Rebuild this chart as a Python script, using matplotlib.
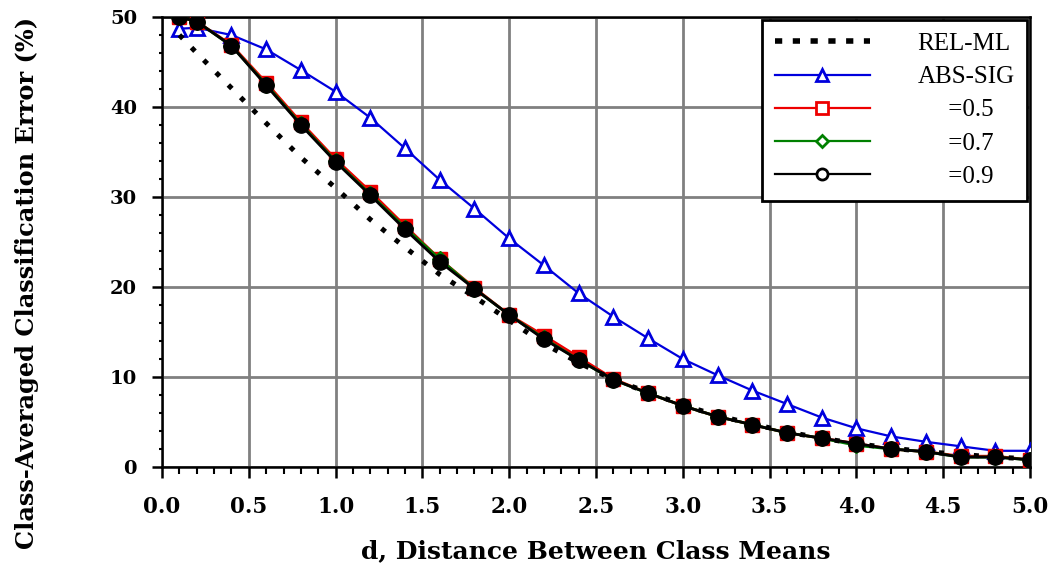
import matplotlib
matplotlib.use("Agg")
import matplotlib.pyplot as plt
from matplotlib.lines import Line2D
from matplotlib.ticker import MultipleLocator

d = [0.1, 0.2, 0.4, 0.6, 0.8, 1.0, 1.2, 1.4, 1.6, 1.8, 2.0, 2.2, 2.4, 2.6,
     2.8, 3.0, 3.2, 3.4, 3.6, 3.8, 4.0, 4.2, 4.4, 4.6, 4.8, 5.0]

rel_ml = [48.0, 46.0, 42.1, 38.2, 34.4, 31.0, 27.5, 24.4, 21.4, 18.9, 16.3,
          13.7, 11.6, 9.7, 8.3, 6.9, 5.7, 4.8, 3.9, 3.2, 2.6, 2.1, 1.7, 1.4,
          1.1, 0.9]
abs_sig = [48.7, 48.8, 48.0, 46.4, 44.1, 41.7, 38.8, 35.4, 31.9, 28.7, 25.4,
           22.4, 19.3, 16.7, 14.3, 12.0, 10.2, 8.5, 7.0, 5.5, 4.3, 3.4, 2.8,
           2.3, 1.8, 1.8]
a05 = [50.0, 49.5, 46.9, 42.7, 38.3, 34.2, 30.6, 26.8, 23.1, 19.9, 16.9,
       14.6, 12.2, 9.8, 8.2, 6.8, 5.6, 4.7, 3.8, 3.2, 2.6, 2.0, 1.7, 1.2,
       1.2, 0.8]
a07 = [50.0, 49.5, 46.8, 42.5, 38.1, 34.0, 30.3, 26.6, 23.1, 19.8, 16.9,
       14.3, 11.9, 9.7, 8.2, 6.8, 5.6, 4.7, 3.8, 3.2, 2.4, 2.0, 1.7, 1.1,
       1.1, 0.8]
a09 = [50.0, 49.5, 46.8, 42.4, 38.0, 33.9, 30.2, 26.4, 22.8, 19.8, 16.9,
       14.2, 11.9, 9.7, 8.2, 6.8, 5.6, 4.7, 3.8, 3.2, 2.6, 2.0, 1.7, 1.1,
       1.1, 0.8]

labels = ["REL-ML", "ABS-SIG", "     =0.5", "     =0.7", "     =0.9"]
x_ticks = [0.0, 0.5, 1.0, 1.5, 2.0, 2.5, 3.0, 3.5, 4.0, 4.5, 5.0]
y_ticks = [0, 10, 20, 30, 40, 50]

plt.rcParams['font.family'] = ['Liberation Serif', 'DejaVu Serif']
AX_FONT = ['DejaVu Serif']

fig = plt.figure(figsize=(10.5, 5.67), dpi=100)
ax = fig.add_axes([162/1050, 100/567, 868/1050, 450/567])

ax.plot(d, abs_sig, color='#0000dd', lw=1.6, marker='^', ms=10,
        mfc='white', mec='#0000dd', mew=2, zorder=3)
ax.plot(d, a05, color='#ee0000', lw=2.0, marker='s', ms=10,
        mfc='#ee0000', mec='#ee0000', zorder=4)
ax.plot(d, a07, color='#008000', lw=2.0, marker='D', ms=8,
        mfc='#008000', mec='#008000', zorder=5)
ax.plot(d, a09, color='black', lw=2.0, marker='o', ms=11,
        mfc='black', mec='black', zorder=6)
ax.plot(d, rel_ml, color='black', lw=3.6, linestyle=(0, (1.0, 2.5)),
        dash_capstyle='butt', zorder=7)

ax.set_xlim(0, 5.0)
ax.set_ylim(0, 50)
ax.set_xticks(x_ticks)
ax.set_xticklabels([f"{v:.1f}" for v in x_ticks])
ax.set_yticks(y_ticks)
ax.set_yticklabels([str(v) for v in y_ticks])
ax.xaxis.set_minor_locator(MultipleLocator(0.1))
ax.yaxis.set_minor_locator(MultipleLocator(2))
ax.grid(True, which='major', color='#808080', lw=2.0, zorder=0)
ax.set_axisbelow(True)

ax.tick_params(axis='x', which='major', direction='out', length=8,
               width=1.8, color='black', pad=13)
ax.tick_params(axis='y', which='major', direction='out', length=7,
               width=1.8, color='black', pad=11)
ax.tick_params(axis='x', which='minor', direction='out', length=5, width=1.5)
ax.tick_params(axis='y', which='minor', direction='out', length=2.5, width=1.5)
for lab in ax.get_xticklabels():
    lab.set_fontsize(15.5)
    lab.set_fontweight('bold')
    lab.set_family(AX_FONT)
for lab in ax.get_yticklabels():
    lab.set_fontsize(14)
    lab.set_fontweight('bold')
    lab.set_family(AX_FONT)
for s in ax.spines.values():
    s.set_linewidth(1.8)
    s.set_color('black')

fig.text(596/1050, 1 - 551/567, "d, Distance Between Class Means",
         ha='center', va='center', fontsize=18, fontweight='bold',
         family=AX_FONT)
fig.text(27/1050, 1 - 283/567, "Class-Averaged Classification Error (%)",
         rotation=90, ha='center', va='center', fontsize=17.3,
         fontweight='bold', family=AX_FONT)

handles = [
    Line2D([], [], color='black', lw=4, linestyle=(0, (1.3, 1.9)),
           dash_capstyle='butt'),
    Line2D([], [], color='#0000dd', lw=1.6, marker='^', ms=8, mfc='white',
           mec='#0000dd', mew=2),
    Line2D([], [], color='#ee0000', lw=1.6, marker='s', ms=8, mfc='white',
           mec='#ee0000', mew=2),
    Line2D([], [], color='#008000', lw=1.6, marker='D', ms=6, mfc='white',
           mec='#008000', mew=2),
    Line2D([], [], color='black', lw=1.6, marker='o', ms=8, mfc='white',
           mec='black', mew=2),
]
leg = ax.legend(handles, labels, loc='upper right',
                bbox_to_anchor=((1027-162)/868, (467-20)/450),
                borderaxespad=0, fontsize=18, frameon=True, fancybox=False,
                framealpha=1, edgecolor='black', handlelength=3.8,
                handletextpad=1.9, labelspacing=0.43, borderpad=0.5)
leg.get_frame().set_linewidth(2)
leg.set_zorder(10)

fig.savefig("out.png", dpi=100)
